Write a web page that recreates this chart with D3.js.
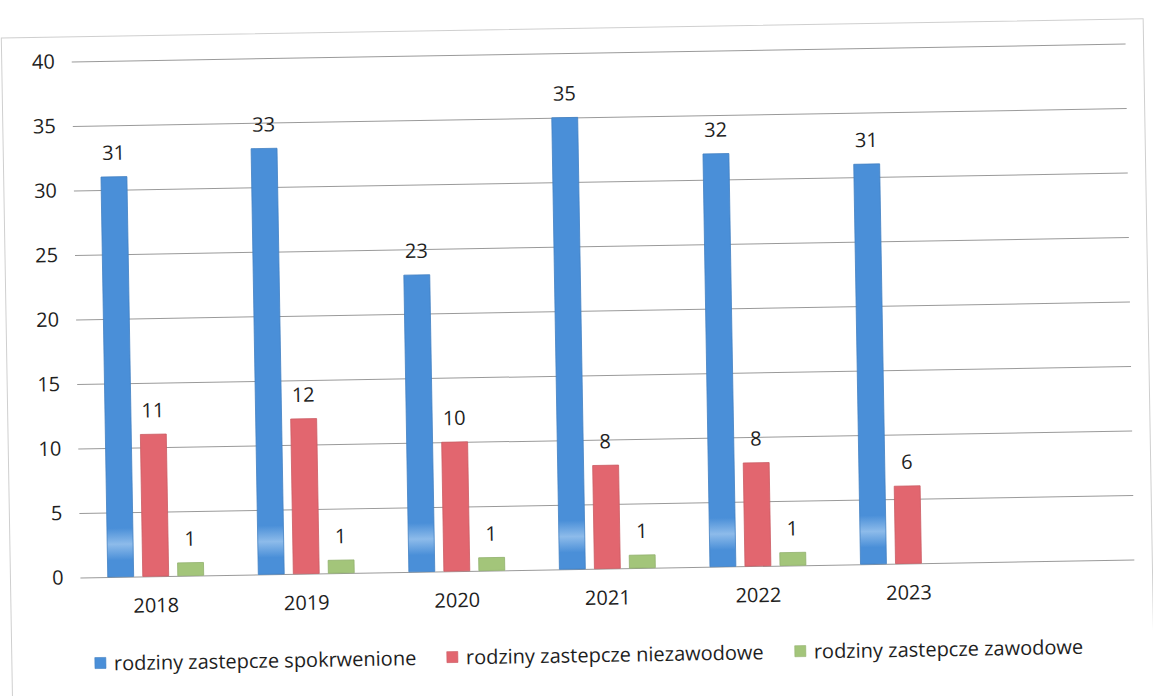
<!DOCTYPE html>
<html><head><meta charset="utf-8">
<script src="https://cdn.jsdelivr.net/npm/d3@7"></script>
<style>
html,body{margin:0;padding:0;background:#fff;}
text{font-family:"Open Sans",Lato,sans-serif;fill:#1e1e1e;}
</style></head>
<body>
<svg id="chart" width="1153" height="696"></svg>
<script>
const categories = ["2018","2019","2020","2021","2022","2023",""];
const seriesNames = ["rodziny zastepcze spokrwenione","rodziny zastepcze niezawodowe","rodziny zastepcze zawodowe"];
const spokrwenione = [31,33,23,35,32,31,null];
const niezawodowe = [11,12,10,8,8,6,null];
const zawodowe = [1,1,1,1,1,null,null];
const yTicks = [0,5,10,15,20,25,30,35,40];
const colors = ["#4a8fd8","#e2666f","#a3c57a"];

const FONT = "'Open Sans', Lato, sans-serif";
const FS = 20;
const seriesValues = [spokrwenione, niezawodowe, zawodowe];
const svg = d3.select("#chart");
const g = svg.append("g").attr("transform","rotate(-0.97,600,310)");

const pL = 76, pR = 1130, pT = 52.5, pB = 568.6;
const x0 = d3.scaleBand().domain(categories).range([pL,pR]).padding(0);
const x1 = d3.scaleBand().domain(d3.range(3)).range([0,x0.bandwidth()]).paddingInner(0.26).paddingOuter(0.78);
const y = d3.scaleLinear().domain([0,40]).range([pB,pT]);

// outer frame
g.append("rect").attr("x",6).attr("y",28).attr("width",1142).attr("height",680)
  .attr("fill","none").attr("stroke","#cfcfcf").attr("stroke-width",1);

// gridlines
const yAxis = d3.axisLeft(y).tickValues(yTicks).tickSize(-(pR-pL)).tickPadding(17);
const ya = g.append("g").attr("transform",`translate(${pL},0)`).call(yAxis);
ya.select(".domain").remove();
ya.selectAll(".tick line").attr("stroke","#9a9a9a").attr("stroke-width",1);
ya.selectAll(".tick text").attr("font-size",FS).attr("fill","#1e1e1e").attr("font-family",FONT);

// subtle light band (scan shine) on blue bars
const defs = svg.append("defs");
const grad = defs.append("linearGradient").attr("id","shine").attr("gradientUnits","userSpaceOnUse")
  .attr("x1",0).attr("x2",0).attr("y1",520).attr("y2",552);
grad.append("stop").attr("offset","0").attr("stop-color",colors[0]);
grad.append("stop").attr("offset","0.5").attr("stop-color","#8dbbea");
grad.append("stop").attr("offset","1").attr("stop-color",colors[0]);

// bars
const data = [];
categories.forEach((c,i)=>seriesValues.forEach((s,k)=>{ if(s[i]!=null) data.push({c,k,v:s[i]}); }));
g.append("g").selectAll("rect").data(data).join("rect")
  .attr("x",d=>x0(d.c)+x1(d.k))
  .attr("y",d=>y(d.v))
  .attr("width",x1.bandwidth())
  .attr("height",d=>y(0)-y(d.v))
  .attr("fill",d=>d.k===0?"url(#shine)":colors[d.k])
  .attr("stroke",d=>d3.color(colors[d.k]).darker(0.3))
  .attr("stroke-width",0.8);

// data labels
g.append("g").selectAll("text").data(data).join("text")
  .attr("x",d=>x0(d.c)+x1(d.k)+x1.bandwidth()/2)
  .attr("y",d=>y(d.v)-17)
  .attr("text-anchor","middle")
  .attr("font-size",FS)
  .text(d=>d.v);

// category labels
const xa = g.append("g").attr("transform",`translate(0,${pB})`)
  .call(d3.axisBottom(x0).tickSize(0).tickPadding(22));
xa.select(".domain").remove();
xa.selectAll(".tick text").attr("font-size",FS).attr("fill","#1e1e1e").attr("font-family",FONT);

// legend
const legendX = [89,441,789];
const lg = g.append("g");
seriesNames.forEach((n,k)=>{
  lg.append("rect").attr("x",legendX[k]).attr("y",649).attr("width",11).attr("height",11)
    .attr("fill",colors[k]).attr("stroke",d3.color(colors[k]).darker(0.3)).attr("stroke-width",0.6);
  lg.append("text").attr("x",legendX[k]+19).attr("y",662).attr("font-size",FS).text(n);
});
</script>
</body></html>
